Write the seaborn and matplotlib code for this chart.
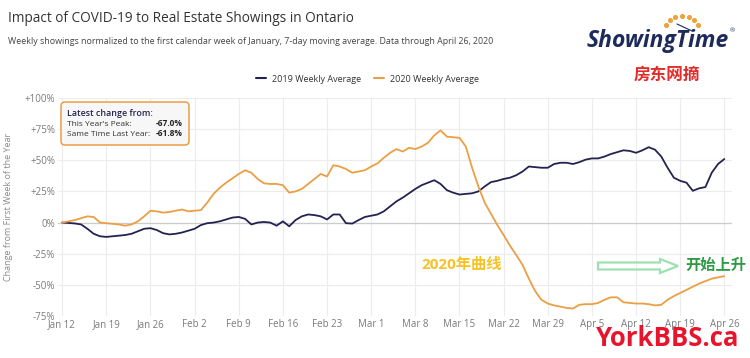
import pandas as pd
import numpy as np
import matplotlib.pyplot as plt
from matplotlib.patches import FancyBboxPatch, FancyArrow
import seaborn as sns

# Daily 7-day moving average, change vs first week of January (%)
start_date = "2020-01-12"
end_date = "2020-04-26"

values_2019 = [
    0, -0.3, -0.7, -1.5, -5, -9, -11, -11.5, -11, -10.5,
    -10, -9, -7, -5, -4.5, -6, -8.5, -9.5, -9, -8,
    -6.5, -5, -2, -0.5, 0, 1, 2.5, 4, 4.5, 3,
    -1.5, 0, 0.5, 0, -2.5, 1, -3, 2, 5, 6.5,
    6, 5, 2.5, 6.5, 6.5, -0.5, -0.8, 2, 4.5, 5.5,
    6.5, 9, 13, 17, 20, 23.5, 27, 30, 32, 34,
    31, 26, 24, 22.5, 23, 23.5, 25, 29, 32.5, 33.5,
    35, 36, 38, 41, 45, 44.5, 44, 44, 47, 48,
    48, 47, 48.5, 50.5, 51.5, 51.5, 53, 55, 56.5, 58,
    57.5, 56, 58, 60.5, 58.5, 53, 44, 36, 33.5, 32,
    25.5, 27.5, 28.5, 40, 47, 51,
]

values_2020 = [
    0, 1, 2, 3.5, 5, 4.5, 0, -0.5, -1, -1.5,
    -2.5, -1.5, 1, 5, 9.5, 9, 8, 8.5, 9.5, 10.5,
    9, 9.5, 10, 16, 23, 28, 32, 35.5, 39, 42,
    40, 35, 31.5, 31, 31, 30, 24, 25, 27, 31,
    35, 39, 37, 46, 45, 43, 40, 41, 42, 45,
    47.5, 52, 56, 59, 57, 60, 59, 61, 64, 70,
    74, 69, 68.5, 68, 61, 44, 29, 16, 7, -2,
    -10, -18.5, -26, -34, -45, -55, -62, -65, -66.5, -67.5,
    -68.5, -69, -66, -65.5, -65.5, -64.5, -62, -60, -60, -64,
    -64.5, -65, -65, -65.5, -66.5, -66, -62, -59, -56.5, -54,
    -51.5, -49, -47, -45, -44, -43,
]

series_names = ["2019 Weekly Average", "2020 Weekly Average"]
y_ticks = [-75, -50, -25, 0, 25, 50, 75, 100]
y_tick_labels = ["-75%", "-50%", "-25%", "0%", "+25%", "+50%", "+75%", "+100%"]

dates = pd.date_range(start_date, end_date, freq="D")
df = pd.concat([
    pd.DataFrame({"date": dates, "change": values_2019, "series": series_names[0]}),
    pd.DataFrame({"date": dates, "change": values_2020, "series": series_names[1]}),
])

sns.set_theme(style="white")
plt.rcParams["font.family"] = ["Open Sans", "Noto Sans CJK SC", "DejaVu Sans"]

navy = "#23234f"
orange = "#eb9f45"
grid_c = "#ececec"
tick_c = "#7a7a7a"

fig = plt.figure(figsize=(7.5, 3.58), dpi=100)
ax = fig.add_axes([0.0773, 0.1173, 0.899, 0.609])

sns.lineplot(
    data=df, x="date", y="change", hue="series",
    palette={series_names[0]: navy, series_names[1]: orange},
    linewidth=1.3, ax=ax, legend=False,
)

week_ticks = pd.date_range(start_date, end_date, freq="7D")
ax.set_xlim(pd.Timestamp(start_date) - pd.Timedelta(hours=16),
            pd.Timestamp(end_date) + pd.Timedelta(hours=30))
ax.set_ylim(-75, 100)
ax.set_xticks(week_ticks)
ax.set_xticklabels([f"{d:%b} {d.day}" for d in week_ticks])
ax.set_yticks(y_ticks)
ax.set_yticklabels(y_tick_labels)
ax.tick_params(axis="both", length=0, labelsize=7, colors=tick_c, pad=2)
ax.grid(True, color=grid_c, linewidth=0.8)
ax.axhline(0, color="#cccccc", linewidth=0.9, zorder=1)
for s in ax.spines.values():
    s.set_visible(False)
ax.set_xlabel("")
ax.set_ylabel("Change from First Week of the Year", fontsize=6.5, color="#8a8a8a", labelpad=8)
ax.set_axisbelow(True)

# legend
handles = [plt.Line2D([], [], color=navy, lw=1.5), plt.Line2D([], [], color=orange, lw=1.5)]
fig.legend(handles, series_names, loc="center", bbox_to_anchor=(0.49, 0.779), ncol=2,
           frameon=False, fontsize=6.5, handlelength=1.1, columnspacing=1.5,
           handletextpad=0.6, labelcolor="#333333")

# titles
fig.text(0.011, 0.948, "Impact of COVID-19 to Real Estate Showings in Ontario",
         fontsize=9.8, color="#333333", va="center")
fig.text(0.011, 0.885, "Weekly showings normalized to the first calendar week of January, "
         "7-day moving average. Data through April 26, 2020",
         fontsize=6.4, color="#444444", va="center")

# overlay in pixel coordinates for decorations
ov = fig.add_axes([0, 0, 1, 1], facecolor="none")
ov.set_xlim(0, 750)
ov.set_ylim(358, 0)
ov.axis("off")

box = FancyBboxPatch((61, 102), 128, 43, boxstyle="round,pad=0,rounding_size=4",
                     facecolor="#f7f7f7", edgecolor=orange, linewidth=1.1)
ov.add_patch(box)
ov.text(67, 113, "Latest change from:", fontsize=6.4, color="#23234f", va="center",
        fontweight="semibold")
ov.text(67, 124, "This Year's Peak:", fontsize=6.0, color="#333333", va="center")
ov.text(67, 134, "Same Time Last Year:", fontsize=6.0, color="#333333", va="center")
ov.text(183, 124, "-67.0%", fontsize=6.0, color="#222222", va="center", ha="right",
        fontweight="bold")
ov.text(183, 134, "-61.8%", fontsize=6.0, color="#222222", va="center", ha="right",
        fontweight="bold")

# ShowingTime logo
ov.text(587, 41, "ShowingTime", fontsize=16.5, fontweight="bold", fontstyle="italic",
        color="#1d2b5c", va="center")
ov.text(730, 31, "®", fontsize=4.5, color="#1d2b5c", va="center")
ang = np.linspace(200, 340, 7)
ov.scatter(682 + 17 * np.cos(np.radians(ang)), 30 + 14 * np.sin(np.radians(ang)),
           s=7, color="#eda33a", zorder=5)
ov.plot([677, 692], [24, 31], color="#1d2b5c", lw=0.8)

ov.text(667, 75, "房东网摘", fontsize=12, fontweight="bold", color="#e32b2b",
        va="center", ha="center")
ov.text(462, 265, "2020年曲线", fontsize=11, fontweight="bold", color="#f7c225",
        va="center", ha="center")
ov.text(716, 266, "开始上升", fontsize=11, fontweight="bold", color="#2f9a46",
        va="center", ha="center")
arrow = FancyArrow(598, 266, 80, 0, width=7, head_width=14, head_length=18,
                   length_includes_head=True, facecolor="none",
                   edgecolor="#9fe0b0", linewidth=1.6)
ov.add_patch(arrow)
ov.text(668, 339, "YorkBBS.ca", fontsize=18.5, fontweight="bold", color="#e8142c",
        va="center", ha="center")

fig.savefig("out.png", dpi=100)
